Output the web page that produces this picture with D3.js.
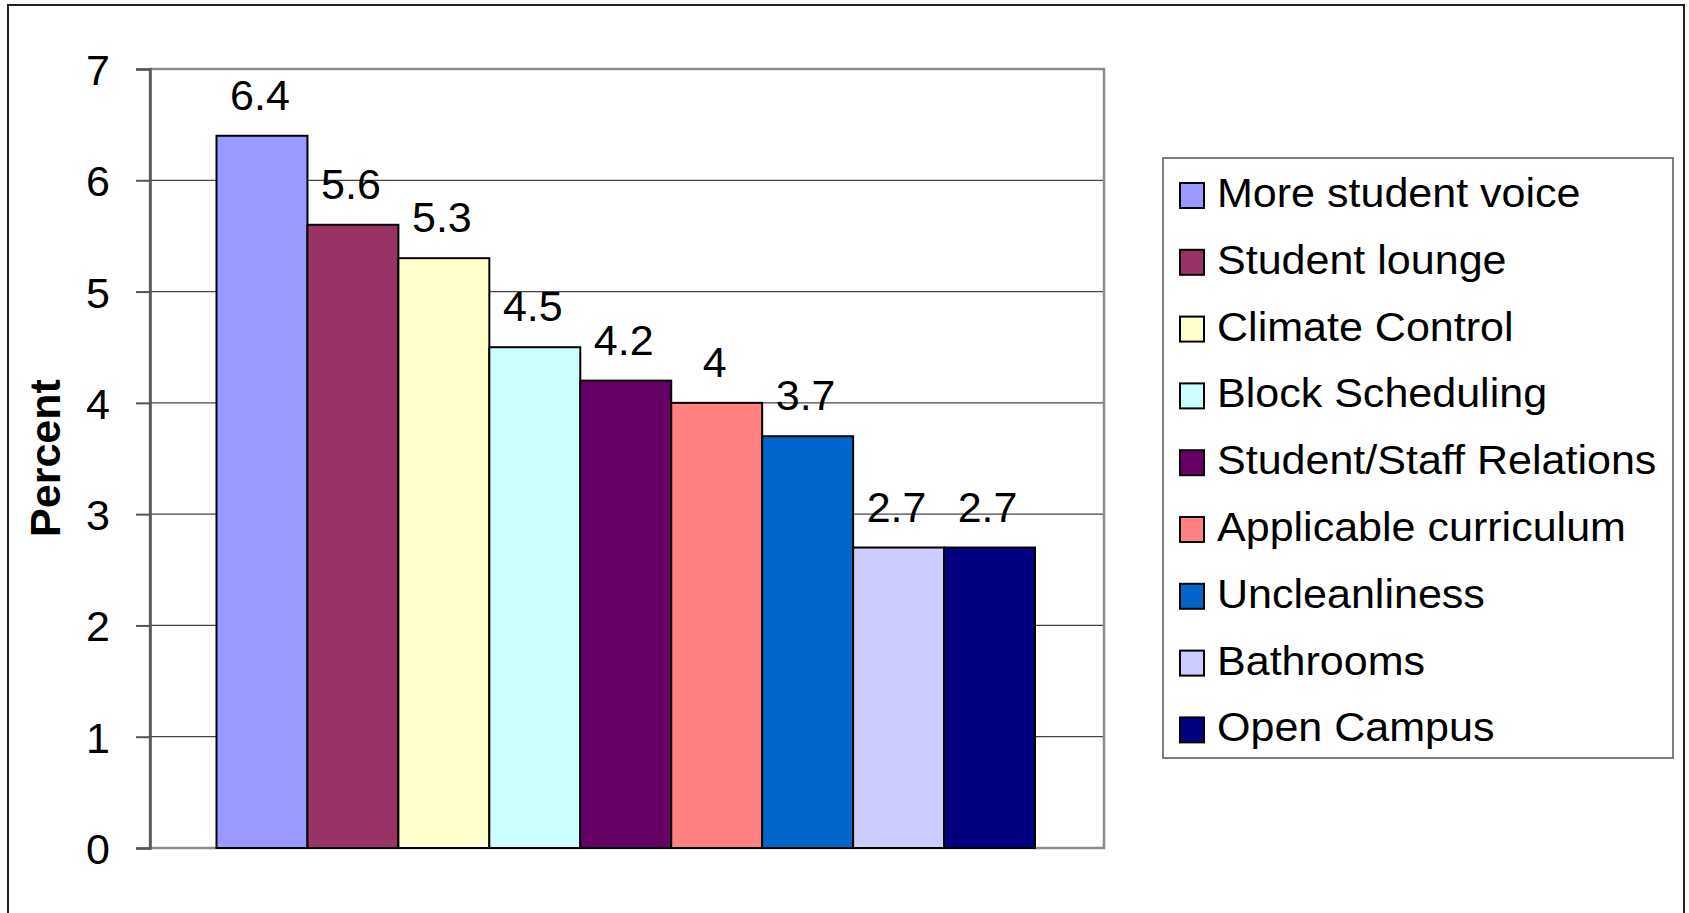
<!DOCTYPE html>
<html>
<head>
<meta charset="utf-8">
<script src="https://cdn.jsdelivr.net/npm/d3@7"></script>
<style>
  html, body { margin: 0; padding: 0; background: #fff; }
  svg { display: block; font-family: "Liberation Sans", Arial, sans-serif; }
</style>
</head>
<body>
<div id="wrapper"></div>
<script>
// chart data
const categories = ["More student voice", "Student lounge", "Climate Control", "Block Scheduling",
  "Student/Staff Relations", "Applicable curriculum", "Uncleanliness", "Bathrooms", "Open Campus"];
const values = [6.4, 5.6, 5.3, 4.5, 4.2, 4, 3.7, 2.7, 2.7];
const colors = ["#9999FF", "#993366", "#FFFFCC", "#CCFFFF", "#660066", "#FF8080", "#0066CC", "#CCCCFF", "#000080"];
const yTicks = [0, 1, 2, 3, 4, 5, 6, 7];
const yTitle = "Percent";

const W = 1689, H = 913;
const plot = {left: 150, right: 1104, top: 69, bottom: 848};

var svg = d3.select("#wrapper").append("svg")
  .attr("width", W).attr("height", H);

// outer frame (bottom edge runs off the picture)
svg.append("path")
  .attr("d", "M8," + H + "V5H1684V" + H)
  .attr("fill", "none").attr("stroke", "#222").attr("stroke-width", 2);

var y = d3.scaleLinear().domain([0, 7]).range([plot.bottom, plot.top]);
var x = d3.scaleBand().domain(categories).range([216.5, 1035]).paddingInner(0);

// gridlines
svg.append("g").selectAll("line")
  .data(yTicks.filter(t => t > 0 && t < 7))
  .enter().append("line")
  .attr("x1", plot.left).attr("x2", plot.right)
  .attr("y1", d => y(d)).attr("y2", d => y(d))
  .attr("stroke", "#444").attr("stroke-width", 1.3);

// plot border
svg.append("rect")
  .attr("x", plot.left).attr("y", plot.top)
  .attr("width", plot.right - plot.left).attr("height", plot.bottom - plot.top)
  .attr("fill", "none").attr("stroke", "#8c8c8c").attr("stroke-width", 2.5);

// bars
svg.append("g").selectAll("rect")
  .data(categories)
  .enter().append("rect")
  .attr("x", d => x(d))
  .attr("y", (d, i) => y(values[i]))
  .attr("width", x.bandwidth())
  .attr("height", (d, i) => y(0) - y(values[i]))
  .attr("fill", (d, i) => colors[i])
  .attr("stroke", "#000").attr("stroke-width", 2);

// value labels
svg.append("g").selectAll("text")
  .data(categories)
  .enter().append("text")
  .attr("x", d => x(d) + x.bandwidth() / 2 - 2)
  .attr("y", (d, i) => y(values[i]) - 26)
  .attr("text-anchor", "middle")
  .attr("font-size", 43)
  .text((d, i) => values[i]);

// y axis
var yAxis = svg.append("g")
  .attr("transform", "translate(" + plot.left + ",0)")
  .call(d3.axisLeft(y).tickValues(yTicks).tickSize(14).tickPadding(26).tickFormat(d3.format("d")));
yAxis.select(".domain").attr("stroke", "#555").attr("stroke-width", 2.5);
yAxis.selectAll(".tick line").attr("stroke", "#555").attr("stroke-width", 2);
yAxis.selectAll(".tick text")
  .attr("font-size", 43).attr("fill", "#000")
  .attr("font-family", "Liberation Sans, Arial, sans-serif")
  .attr("dy", "0.36em");

// y axis title
svg.append("text")
  .attr("transform", "translate(60,458) rotate(-90)")
  .attr("text-anchor", "middle")
  .attr("font-size", 43).attr("font-weight", "bold")
  .text(yTitle);

// legend
var legend = svg.append("g");
legend.append("rect")
  .attr("x", 1163).attr("y", 158)
  .attr("width", 1673 - 1163).attr("height", 758 - 158)
  .attr("fill", "#fff").attr("stroke", "#555").attr("stroke-width", 1.5);

var item = legend.selectAll("g.item")
  .data(categories)
  .enter().append("g").attr("class", "item")
  .attr("transform", (d, i) => "translate(0," + (207 + i * 66.8) + ")");
item.append("rect")
  .attr("x", 1180).attr("y", -24)
  .attr("width", 24).attr("height", 25)
  .attr("fill", (d, i) => colors[i])
  .attr("stroke", "#000").attr("stroke-width", 2);
item.append("text")
  .attr("transform", "translate(1217,0) scale(1.05,1)")
  .attr("font-size", 41)
  .text(d => d);
</script>
</body>
</html>
